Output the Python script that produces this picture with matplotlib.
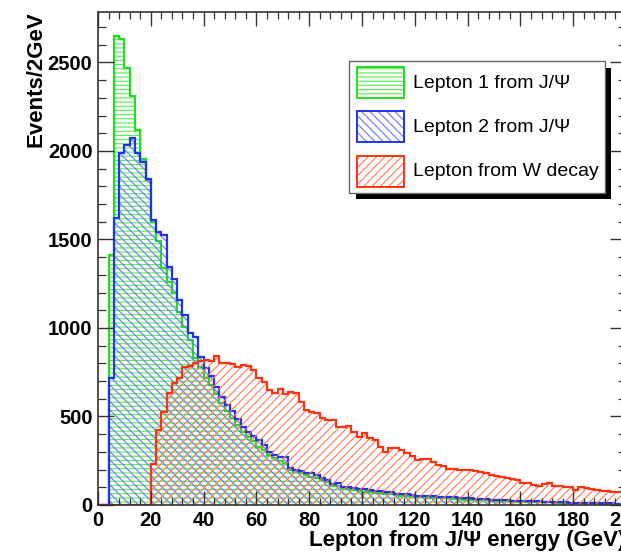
import numpy as np
import matplotlib
matplotlib.use("Agg")
import matplotlib.pyplot as plt
from matplotlib.patches import Rectangle
from matplotlib.ticker import MultipleLocator

# ---------------- data (2 GeV bins, 0-200 GeV) ----------------
bin_edges = np.arange(0, 202, 2)

lepton1_jpsi = [
    0, 0, 1411, 2652, 2630, 2466, 2308, 2116, 1955, 1835,
    1600, 1490, 1340, 1260, 1200, 1090, 1005, 930, 830, 780,
    720, 680, 625, 575, 530, 490, 450, 410, 385, 360,
    330, 310, 285, 265, 250, 235, 200, 185, 178, 168,
    160, 150, 140, 128, 110, 105, 95, 90, 85, 80,
    76, 73, 68, 66, 63, 61, 55, 52, 50, 48,
    44, 43, 42, 40, 39, 38, 37, 35, 34, 31,
    30, 29, 28, 27, 24, 23, 22, 21, 20, 19,
    18, 18, 17, 16, 15, 15, 14, 14, 13, 12,
    11, 11, 10, 10, 9, 8, 8, 7, 7, 6]

lepton2_jpsi = [
    0, 0, 717, 1620, 1986, 2031, 2071, 1986, 1936, 1840,
    1608, 1540, 1523, 1343, 1275, 1157, 1072, 971, 948, 835,
    775, 730, 665, 610, 565, 530, 485, 440, 415, 390,
    365, 340, 301, 282, 269, 269, 207, 197, 194, 182,
    179, 169, 150, 141, 118, 125, 103, 100, 94, 92,
    88, 86, 79, 78, 75, 74, 64, 62, 60, 58,
    52, 51, 50, 49, 48, 47, 46, 44, 42, 38,
    37, 36, 35, 33, 29, 28, 27, 26, 25, 23,
    22, 22, 21, 20, 19, 18, 18, 17, 16, 14,
    13, 13, 12, 12, 10, 10, 9, 9, 8, 8]

lepton_w = [
    0, 0, 0, 0, 0, 0, 0, 0, 0, 0,
    231, 423, 525, 632, 688, 716, 779, 784, 801, 813,
    818, 813, 841, 801, 801, 796, 779, 790, 784, 760,
    720, 695, 650, 632, 654, 625, 640, 630, 583, 536,
    527, 520, 489, 480, 480, 442, 438, 446, 414, 386,
    408, 376, 367, 329, 301, 320, 320, 310, 292, 276,
    254, 258, 258, 245, 226, 220, 203, 203, 197, 197,
    195, 190, 188, 182, 169, 163, 160, 150, 145, 141,
    122, 122, 113, 107, 118, 122, 107, 107, 103, 103,
    85, 100, 94, 88, 85, 81, 79, 75, 75, 72]

labels = ["Lepton 1 from J/\u03a8", "Lepton 2 from J/\u03a8", "Lepton from W decay"]
x_ticks = list(range(0, 201, 20))
y_ticks = list(range(0, 2501, 500))

# ---------------- style ----------------
W, H = 621, 554
plt.rcParams["font.family"] = ["Liberation Sans", "DejaVu Sans"]
plt.rcParams["hatch.linewidth"] = 0.8

line_cols = ["#22dd22", "#2233ee", "#ff3311"]
hatch_cols = ["#55ee55", "#6677ff", "#ff7755"]
hatches = ["----", "\\\\\\\\", "////"]


def fx(x):
    return x / W


def fy(y):
    return 1 - y / H


fig = plt.figure(figsize=(W / 100, H / 100), dpi=100)
fig.patch.set_facecolor("white")
ax = fig.add_axes([fx(98), fy(505), 528 / W, 493 / H])

series = [lepton1_jpsi, lepton2_jpsi, lepton_w]
for vals, lc, hc, ht in zip(series, line_cols, hatch_cols, hatches):
    ax.stairs(vals, bin_edges, fill=True, facecolor="none", edgecolor=hc,
              hatch=ht, linewidth=0)
    ax.stairs(vals, bin_edges, color=lc, linewidth=1.6, baseline=0)

ax.set_xlim(0, 200)
ax.set_ylim(0, 2785)
ax.set_xticks(x_ticks)
ax.set_yticks(y_ticks)
ax.xaxis.set_minor_locator(MultipleLocator(4))
ax.yaxis.set_minor_locator(MultipleLocator(100))
ax.tick_params(axis="both", which="both", direction="in", top=True, right=True,
               color="#333333")
ax.tick_params(axis="x", which="major", length=10, width=1.0, pad=4)
ax.tick_params(axis="x", which="minor", length=5, width=0.9)
ax.tick_params(axis="y", which="major", length=11.5, width=1.0, pad=4)
ax.tick_params(axis="y", which="minor", length=5.8, width=0.9)
for lab in ax.get_xticklabels() + ax.get_yticklabels():
    lab.set_fontsize(14.5)
    lab.set_fontweight("bold")
for sp in ax.spines.values():
    sp.set_color("#333333")
    sp.set_linewidth(1.2)

# axis titles
fig.text(fx(36), fy(11), "Events/2GeV", rotation=90, ha="center", va="top",
         fontsize=16, fontweight="bold")
fig.text(fx(625), fy(546), "Lepton from J/\u03a8 energy (GeV)", ha="right",
         va="baseline", fontsize=16, fontweight="bold")

# legend with shadow
fig.add_artist(Rectangle((fx(356), fy(199)), (611 - 356) / W, (199 - 68) / H,
                         transform=fig.transFigure, facecolor="black",
                         edgecolor="none", zorder=5))
fig.add_artist(Rectangle((fx(349), fy(193)), (605 - 349) / W, (193 - 61) / H,
                         transform=fig.transFigure, facecolor="white",
                         edgecolor="#666666", linewidth=1.0, zorder=6))
box_tops = [67, 111, 156]
for top, lab, lc, hc, ht in zip(box_tops, labels, line_cols, hatch_cols, hatches):
    rect = ((fx(357), fy(top + 31)), (404 - 357) / W, 31 / H)
    fig.add_artist(Rectangle(*rect, transform=fig.transFigure, facecolor="white",
                             edgecolor=hc, hatch=ht, linewidth=0, zorder=7))
    fig.add_artist(Rectangle(*rect, transform=fig.transFigure, facecolor="none",
                             edgecolor=lc, linewidth=1.4, zorder=8))
    fig.text(fx(413), fy(top + 16), lab, ha="left", va="center", fontsize=14,
             zorder=9)

fig.savefig("out.png", dpi=100)
